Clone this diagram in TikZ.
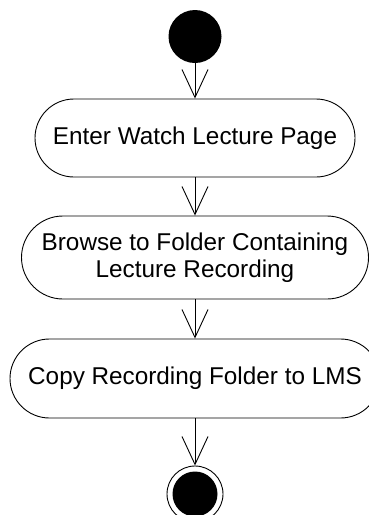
\documentclass[tikz,border=0pt]{standalone}
\usepackage{fontspec}
\setmainfont{Liberation Sans}
\usetikzlibrary{arrows.meta}

\begin{document}
\begin{tikzpicture}[x=1pt, y=1pt, >={Straight Barb[length=28pt,width=26pt]}, line width=0.9pt,
    activity/.style={draw, inner sep=0pt, align=center, font=\fontsize{24.3}{27}\selectfont}]
    \useasboundingbox (0,0) rectangle (369,-515);

    % 起始节点
    \node[circle, fill, inner sep=0pt, minimum size=53pt] (start) at (195,-36.5) {};

    % 活动
    \node[activity, rounded corners=39pt, minimum width=320pt, minimum height=78pt] (enter) at (195,-138) {Enter Watch Lecture Page};
    \node[activity, rounded corners=41.5pt, minimum width=347pt, minimum height=83pt] (browse) at (195,-257.5) {Browse to Folder Containing\\Lecture Recording};
    \node[activity, rounded corners=39.5pt, minimum width=370pt, minimum height=79pt] (copy) at (195,-378.5) {Copy Recording Folder to LMS};

    % 结束节点
    \node[circle, draw, inner sep=0pt, minimum size=56pt,
        path picture={\fill (path picture bounding box.center) circle (22.5pt);}] (end) at (195,-494) {};

    % 控制流
    \draw[->] (start) -- (enter);
    \draw[->] (enter) -- (browse);
    \draw[->] (browse) -- (copy);
    \draw[->] (copy) -- (end);
\end{tikzpicture}
\end{document}
